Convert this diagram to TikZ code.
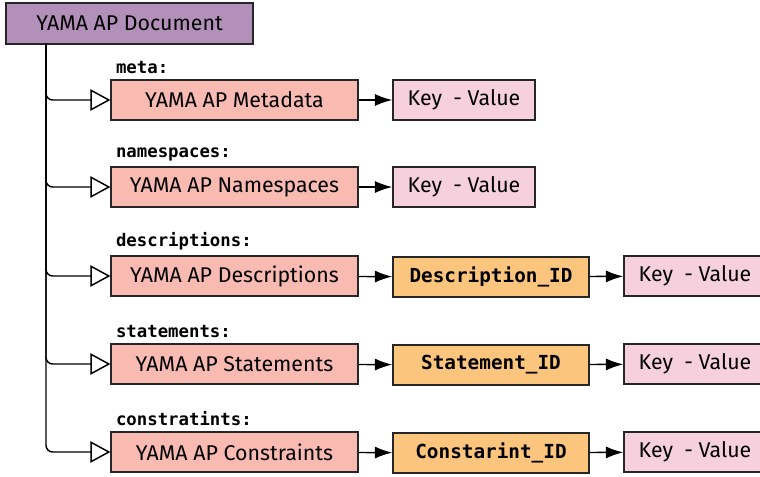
\documentclass[tikz,border=0pt]{standalone}
\usepackage{fontspec}
\setmainfont{Fira Sans}
\newfontfamily\idfont{DejaVu Sans Mono}
\usetikzlibrary{arrows.meta}
\definecolor{docfill}{HTML}{B390BA}
\definecolor{partfill}{HTML}{F9BBB1}
\definecolor{idfill}{HTML}{FBC57D}
\definecolor{kvfill}{HTML}{F6D0DC}
\tikzset{docbox/.style={draw=black!85, line width=1.1pt, fill=docfill, minimum width=185pt, minimum height=31pt, font=\fontsize{16}{18}\selectfont}}
\tikzset{partbox/.style={draw=black!85, line width=1.1pt, fill=partfill, minimum width=185pt, minimum height=30pt, font=\fontsize{16}{18}\selectfont}}
\tikzset{idbox/.style={draw=black!85, line width=1.1pt, fill=idfill, minimum width=147pt, minimum height=30pt, font=\idfont\bfseries\fontsize{14.5}{16}\selectfont}}
\tikzset{kvbox/.style={draw=black!85, line width=1.1pt, fill=kvfill, minimum width=106.5pt, minimum height=30pt, font=\fontsize{16}{18}\selectfont}}
\tikzset{keylabel/.style={anchor=south west, inner sep=1pt, font=\idfont\bfseries\fontsize{13}{15}\selectfont}}
\tikzset{branch/.style={line width=1.1pt, rounded corners=5pt, -{Triangle[open, length=15pt, width=16pt]}}}
\tikzset{link/.style={line width=1.1pt, -{Latex[length=13pt, width=9pt]}}}

\begin{document}
\begin{tikzpicture}[x=0.75pt, y=-0.75pt]
\useasboundingbox (0,0) rectangle (760,477);
\clip (0,0) rectangle (760,477);

\node[docbox] (doc) at (129.5, 23.5) {YAMA AP Document};
\coordinate (trunk) at (46, 44);

% one row per top level key
\node[partbox] (meta) at (234.5, 100) {YAMA AP Metadata};
\node[partbox] (ns) at (234.5, 187) {YAMA AP Namespaces};
\node[partbox] (desc) at (234.5, 276) {YAMA AP Descriptions};
\node[partbox] (stmt) at (234.5, 364) {YAMA AP Statements};
\node[partbox] (cons) at (234.5, 452) {YAMA AP Constraints};

\node[keylabel] at ([xshift=3pt, yshift=3pt]meta.north west) {meta:};
\node[keylabel] at ([xshift=3pt, yshift=3pt]ns.north west) {namespaces:};
\node[keylabel] at ([xshift=3pt, yshift=3pt]desc.north west) {descriptions:};
\node[keylabel] at ([xshift=3pt, yshift=3pt]stmt.north west) {statements:};
\node[keylabel] at ([xshift=3pt, yshift=3pt]cons.north west) {constratints:};

\node[kvbox] (kv1) at (464, 100) {Key\ \ - Value};
\node[kvbox] (kv2) at (464, 187) {Key\ \ - Value};

\node[idbox] (descid) at (491, 277) {Description\_ID};
\node[idbox] (stmtid) at (491, 365) {Statement\_ID};
\node[idbox] (consid) at (491, 453) {Constarint\_ID};

\node[kvbox] (kv3) at (695, 276) {Key\ \ - Value};
\node[kvbox] (kv4) at (695, 364) {Key\ \ - Value};
\node[kvbox] (kv5) at (695, 452) {Key\ \ - Value};

% tree from the document box
\foreach \n in {meta, ns, desc, stmt, cons}
  \draw[branch] (trunk) |- (\n.west);

\draw[link] (meta) -- (kv1);
\draw[link] (ns) -- (kv2);
\draw[link] (desc) -- (descid);
\draw[link] (stmt) -- (stmtid);
\draw[link] (cons) -- (consid);
\draw[link] (descid) -- (kv3);
\draw[link] (stmtid) -- (kv4);
\draw[link] (consid) -- (kv5);

\end{tikzpicture}
\end{document}
